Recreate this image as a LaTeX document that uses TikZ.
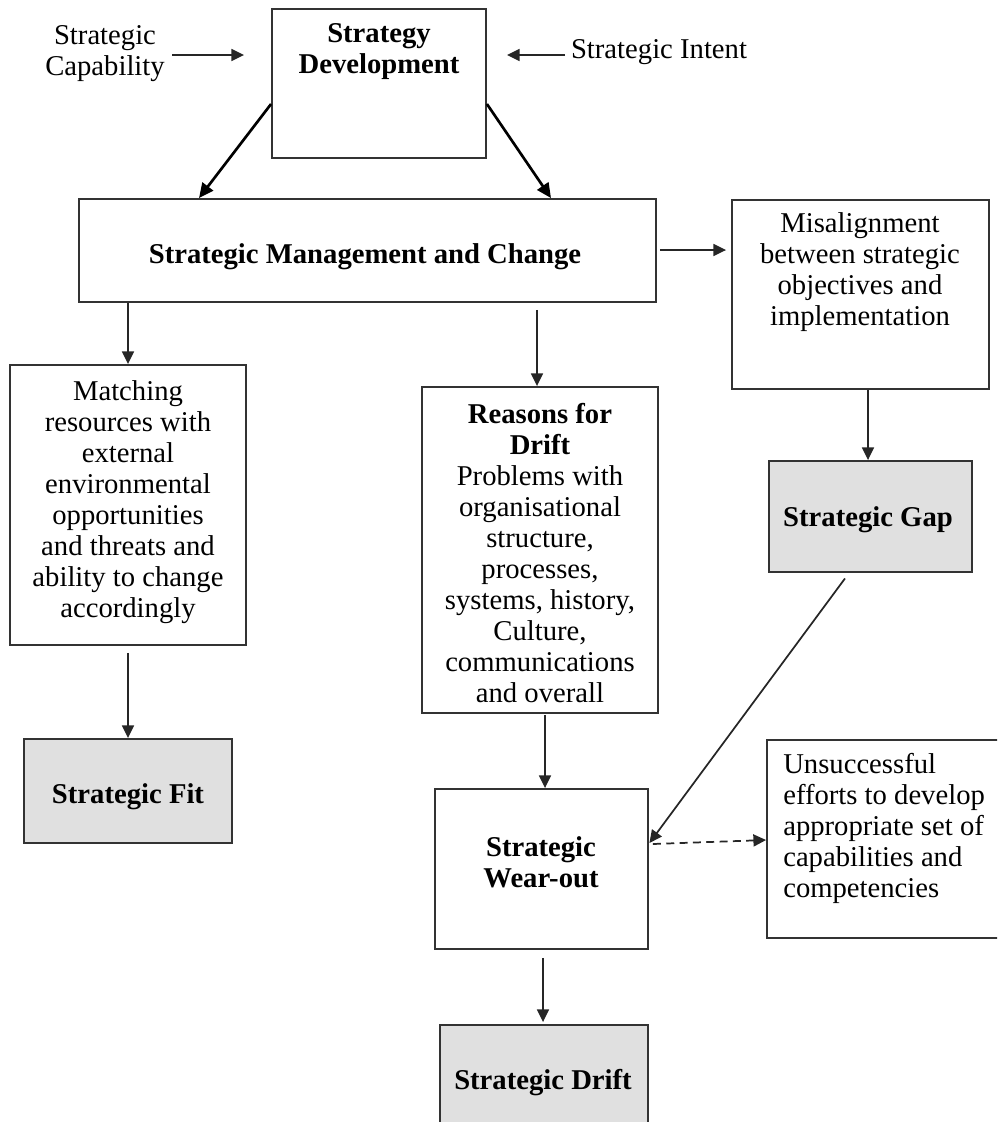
\documentclass[tikz,border=0pt]{standalone}
\usepackage{fontspec}
\setmainfont{Liberation Serif}
\usetikzlibrary{arrows.meta,fit}

\begin{document}
\begin{tikzpicture}[x=0.75pt,y=-0.75pt,
  box/.style={draw=black!80, line width=1.4pt, inner sep=0pt},
  shaded/.style={box, fill=black!12},
  txt/.style={align=center, inner sep=0pt, font=\fontsize{21.5}{23.25}\selectfont},
  bold/.style={align=center, inner sep=0pt, font=\fontsize{21.5}{23.25}\selectfont\bfseries},
  link/.style={draw=black!85, line width=1.3pt, -{Triangle[length=9.5pt,width=9pt]}},
  heavy link/.style={draw=black, line width=2pt, -{Triangle[length=11pt,width=10pt]}},
  dashed link/.style={link, dash pattern=on 6pt off 4pt},
]
\clip (0,0) rectangle (997,1122);

% ---- frames ----
\node[box, fit={(272,9)(486,158)}]      (sd)   {};
\node[box, fit={(79,199)(656,302)}]     (smc)  {};
\node[box, fit={(732,200)(989,389)}]    (mis)  {};
\node[box, fit={(10,365)(246,645)}]     (mat)  {};
\node[shaded, fit={(24,739)(232,843)}]  (fit)  {};
\node[box, fit={(422,387)(658,713)}]    (rea)  {};
\node[shaded, fit={(769,461)(972,572)}] (gap)  {};
\node[box, fit={(435,789)(648,949)}]    (wear) {};
\node[shaded, fit={(440,1025)(648,1160)}] (drift) {};
\node[box, fit={(767,740)(1030,938)}]   (uns)  {};

% ---- texts ----
\node[txt]  (cap)    at (105,54)  {Strategic\\Capability};
\node[txt]  (intent) at (659,52)  {Strategic Intent};
\node[bold] (sdt)    at (379,52)  {Strategy\\Development};
\node[bold] (smct)   at (365,257) {Strategic Management and Change};
\node[txt]  (mist)   at (860,272) {Misalignment\\between strategic\\objectives and\\implementation};
\node[txt]  (matt)   at (128,502) {Matching\\resources with\\external\\environmental\\opportunities\\and threats and\\ability to change\\accordingly};
\node[bold] (fitt)   at (128,797) {Strategic Fit};
\node[txt]  (reat)   at (540,553) {\textbf{Reasons for}\\\textbf{Drift}\\Problems with\\organisational\\structure,\\processes,\\systems, history,\\Culture,\\communications\\and overall};
\node[bold] (gapt)   at (868,520) {Strategic Gap};
\node[bold] (weart)  at (541,862) {Strategic\\Wear-out};
\node[bold] (driftt) at (543,1083) {Strategic Drift};
\node[txt, align=left, anchor=west] (unst) at (783,828)
  {Unsuccessful\\efforts to develop\\appropriate set of\\capabilities and\\competencies};

% ---- connectors ----
\draw[link] ([shift={(67,1)}]cap.center) -- ([shift={(-27,-28.5)}]sd.west);
\draw[link] ([shift={(-94,3)}]intent.center) -- ([shift={(20,-28.5)}]sd.east);
\draw[heavy link] ([shift={(0,20.5)}]sd.west) -- ([shift={(-168.5,0)}]smc.north);
\draw[heavy link] ([shift={(0,20.5)}]sd.east) -- ([shift={(183.5,0)}]smc.north);
\draw[link] ([shift={(3,-0.5)}]smc.east) -- ([shift={(-5,-44.5)}]mis.west);
\draw[link] ([shift={(-239.5,0)}]smc.south) -- (mat.north);
\draw[link] ([shift={(0,7)}]mat.south) -- (fit.north);
\draw[link] ([shift={(169.5,7)}]smc.south) -- ([shift={(-3,0)}]rea.north);
\draw[link] ([shift={(5,1)}]rea.south) -- ([shift={(3.5,0)}]wear.north);
\draw[link] ([shift={(7.5,0)}]mis.south) -- ([shift={(-2.5,0)}]gap.north);
\draw[link] ([shift={(1.5,8)}]wear.south) -- ([shift={(-1,-2)}]drift.north);
\draw[link] ([shift={(-25.5,5.5)}]gap.south) -- ([shift={(0.5,-26)}]wear.east);
\draw[dashed link] ([shift={(4,-25)}]wear.east) -- ([shift={(0,1)}]uns.west);
\end{tikzpicture}
\end{document}
